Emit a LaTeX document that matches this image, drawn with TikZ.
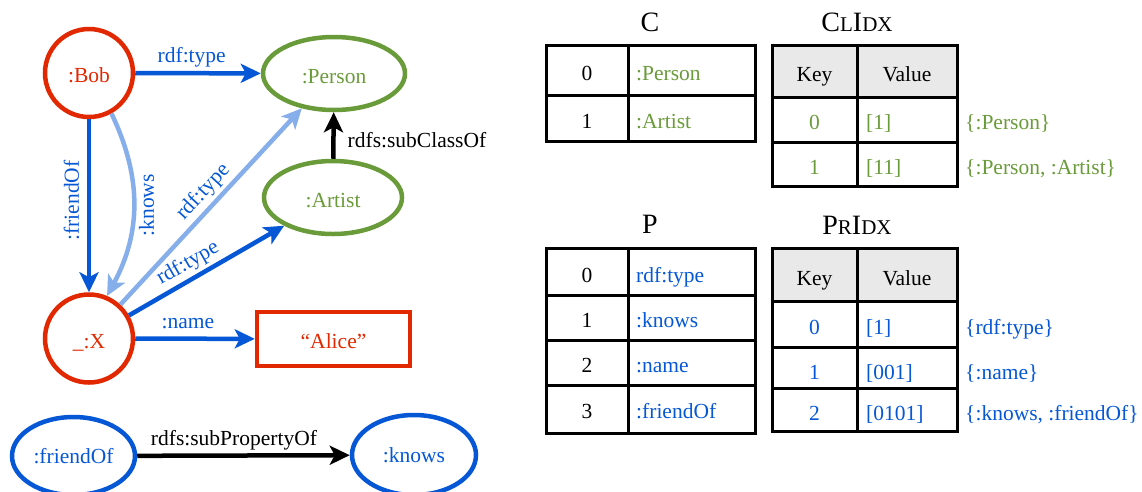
\documentclass[tikz,border=0pt]{standalone}
\usepackage{fontspec}
\setmainfont{Liberation Serif}
\usetikzlibrary{arrows.meta,shapes.geometric}
\definecolor{cred}{RGB}{226,40,0}
\definecolor{cgreen}{RGB}{106,155,58}
\definecolor{cblue}{RGB}{5,87,214}
\definecolor{clblue}{RGB}{134,174,234}
\definecolor{chead}{RGB}{233,233,233}
\newcommand{\mysc}[1]{{\fontsize{21}{24}\selectfont #1}}
\tikzset{
  res/.style={circle, draw=cred, line width=4.5pt, text=cred, minimum size=88pt, inner sep=0pt, text height=19pt, text depth=0pt},
  cls/.style={ellipse, draw=cgreen, line width=4.5pt, text=cgreen, inner sep=0pt, text height=19pt, text depth=0pt},
  prop/.style={ellipse, draw=cblue, line width=4.5pt, text=cblue, inner sep=0pt},
  lit/.style={rectangle, draw=cred, line width=4.5pt, text=cred, inner sep=0pt, text height=19pt, text depth=0pt},
  conn/.style={line width=4.5pt, -{Stealth[length=20pt,width=19pt,inset=5pt]}},
  dconn/.style={conn, draw=cblue},
  lconn/.style={conn, draw=clblue},
  kconn/.style={conn, draw=black},
  elab/.style={text=cblue, inner sep=3pt, text height=15pt, text depth=5pt},
  klab/.style={text=black, inner sep=3pt, text height=15pt, text depth=5pt},
  tbl/.style={line width=3pt, draw=black},
  cellc/.style={inner sep=0pt, anchor=base},
  cellw/.style={inner sep=0pt, anchor=base west},
  ttl/.style={inner sep=0pt, anchor=base, font=\fontsize{28}{30}\selectfont}
}
\begin{document}
\begin{tikzpicture}[x=1pt,y=-1pt, every node/.append style={font=\fontsize{21.5}{26}\selectfont}]
\useasboundingbox (0,0) rectangle (1142,491);

% ---------- graph ----------
\node[res] (bob) at (89,73) {:Bob};
\node[cls, minimum width=142pt, minimum height=73pt] (person) at (334,73.5) {:Person};
\node[cls, minimum width=138pt, minimum height=73pt] (artist) at (333,197.5) {:Artist};
\node[res] (x) at (89,338.5) {\_:X};
\node[lit, minimum width=153pt, minimum height=54pt] (alice) at (333.5,339) {“Alice”};
\node[prop, minimum width=123pt, minimum height=78pt] (friendof) at (73.5,456) {:friendOf};
\node[prop, minimum width=124pt, minimum height=80pt] (knows) at (414,455) {:knows};

\draw[dconn] (bob) -- node[elab, above, pos=0.45] {rdf:type} (person);
\draw[dconn] (bob) -- node[elab, pos=0.47, anchor=south, rotate=90] {:friendOf} (x);
\draw[lconn] (bob.-61) to[bend left=27] node[elab, pos=0.5, anchor=north, rotate=90] {:knows} (x.67);
\draw[lconn] (x) -- node[elab, above, sloped, pos=0.52] {rdf:type} (person);
\draw[dconn] (x) -- node[elab, above, sloped, pos=0.43] {rdf:type} (artist);
\draw[dconn] (x) -- node[elab, above, pos=0.44] {:name} (alice);
\draw[kconn] (artist) -- node[klab, right=9pt, pos=0.35] {rdfs:subClassOf} (person);
\draw[kconn] (friendof) -- node[klab, above, pos=0.455] {rdfs:subPropertyOf} (knows);

% ---------- table C ----------
\node[ttl] (tC) at (650,31) {C};
\draw[tbl] (546,45) rectangle (755,141);
\draw[tbl] (628,45) -- (628,141);
\draw[tbl] (546,95) -- (755,95);
\node[cellc] (c0k) at (587,80) {0};
\node[cellw, text=cgreen] (c0v) at (636,80) {:Person};
\node[cellc] (c1k) at (587,128) {1};
\node[cellw, text=cgreen] (c1v) at (636,128) {:Artist};

% ---------- table ClIdx ----------
\node[ttl] (tCl) at (857,31) {C\mysc{L}I\mysc{DX}};
\fill[chead] (772,45) rectangle (957,97);
\draw[tbl] (772,45) rectangle (957,186);
\draw[tbl] (857,45) -- (857,186);
\draw[tbl] (772,97) -- (957,97);
\draw[tbl] (772,142) -- (957,142);
\node[cellc] (clh1) at (814.5,81) {Key};
\node[cellc] (clh2) at (907,81) {Value};
\node[cellc, text=cgreen] (cl0k) at (814.5,129.5) {0};
\node[cellw, text=cgreen] (cl0v) at (866,129.5) {[1]};
\node[cellw, text=cgreen] (cl0s) at (965,129.5) {\{:Person\}};
\node[cellc, text=cgreen] (cl1k) at (814.5,174) {1};
\node[cellw, text=cgreen] (cl1v) at (866,174) {[11]};
\node[cellw, text=cgreen] (cl1s) at (965,174) {\{:Person, :Artist\}};

% ---------- table P ----------
\node[ttl] (tP) at (650,233) {P};
\draw[tbl] (546,248) rectangle (755,433);
\draw[tbl] (628,248) -- (628,433);
\draw[tbl] (546,295) -- (755,295);
\draw[tbl] (546,340) -- (755,340);
\draw[tbl] (546,385) -- (755,385);
\node[cellc] (p0k) at (587,282) {0};
\node[cellw, text=cblue] (p0v) at (636,282) {rdf:type};
\node[cellc] (p1k) at (587,327.5) {1};
\node[cellw, text=cblue] (p1v) at (636,327.5) {:knows};
\node[cellc] (p2k) at (587,372.5) {2};
\node[cellw, text=cblue] (p2v) at (636,372.5) {:name};
\node[cellc] (p3k) at (587,418.5) {3};
\node[cellw, text=cblue] (p3v) at (636,418.5) {:friendOf};

% ---------- table PrIdx ----------
\node[ttl] (tPr) at (857,234) {P\mysc{R}I\mysc{DX}};
\fill[chead] (772,248) rectangle (957,301);
\draw[tbl] (772,248) rectangle (957,431);
\draw[tbl] (857,248) -- (857,431);
\draw[tbl] (772,301) -- (957,301);
\draw[tbl] (772,347) -- (957,347);
\draw[tbl] (772,388) -- (957,388);
\node[cellc] (prh1) at (814.5,285) {Key};
\node[cellc] (prh2) at (907,285) {Value};
\node[cellc, text=cblue] (pr0k) at (814.5,334) {0};
\node[cellw, text=cblue] (pr0v) at (866,334) {[1]};
\node[cellw, text=cblue] (pr0s) at (965,334) {\{rdf:type\}};
\node[cellc, text=cblue] (pr1k) at (814.5,379) {1};
\node[cellw, text=cblue] (pr1v) at (866,379) {[001]};
\node[cellw, text=cblue] (pr1s) at (965,379) {\{:name\}};
\node[cellc, text=cblue] (pr2k) at (814.5,420) {2};
\node[cellw, text=cblue] (pr2v) at (866,420) {[0101]};
\node[cellw, text=cblue] (pr2s) at (965,420) {\{:knows, :friendOf\}};
\end{tikzpicture}
\end{document}
